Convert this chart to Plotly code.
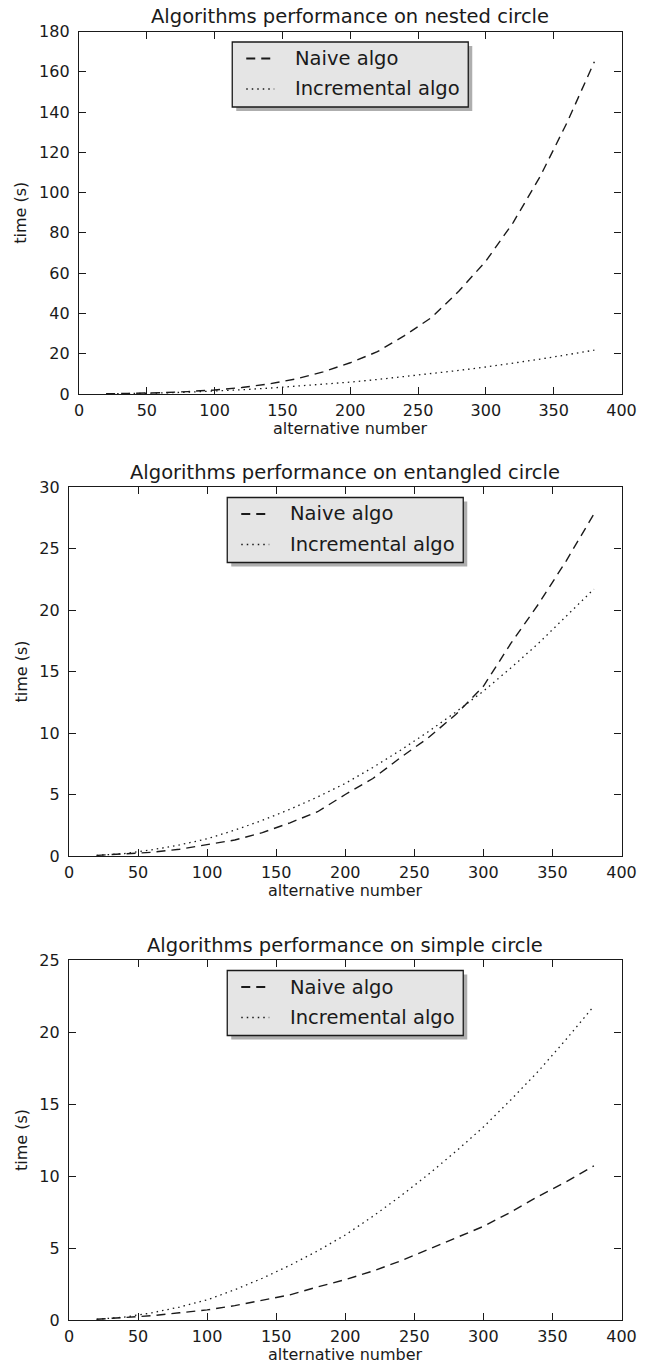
import plotly.graph_objects as go

W, H = 652, 1366

alt_numbers = [20, 40, 60, 80, 100, 120, 140, 160, 180, 200, 220, 240, 260, 280, 300, 320, 340, 360, 380]

nested_naive = [0.1, 0.3, 0.6, 1.2, 2.0, 3.2, 5.0, 7.5, 11.0, 15.5, 21.0, 29.0, 38.0, 51.0, 66.0, 85.0, 108.0, 135.0, 165.0]
nested_incr = [0.05, 0.2, 0.5, 0.9, 1.4, 2.1, 2.9, 3.8, 4.8, 5.9, 7.2, 8.6, 10.1, 11.7, 13.4, 15.3, 17.3, 19.5, 21.8]

entangled_naive = [0.05, 0.15, 0.3, 0.55, 0.9, 1.3, 1.9, 2.7, 3.6, 5.0, 6.3, 8.0, 9.6, 11.5, 13.8, 17.3, 20.5, 24.0, 27.8]
entangled_incr = [0.05, 0.2, 0.5, 0.9, 1.4, 2.1, 2.9, 3.8, 4.8, 5.9, 7.2, 8.6, 10.1, 11.7, 13.4, 15.3, 17.3, 19.5, 21.7]

simple_naive = [0.05, 0.15, 0.3, 0.5, 0.7, 1.0, 1.35, 1.75, 2.3, 2.8, 3.4, 4.1, 4.9, 5.7, 6.5, 7.5, 8.6, 9.6, 10.7]
simple_incr = [0.05, 0.2, 0.5, 0.9, 1.4, 2.1, 2.9, 3.8, 4.8, 5.9, 7.2, 8.6, 10.1, 11.7, 13.4, 15.3, 17.3, 19.5, 21.8]

titles = ["Algorithms performance on nested circle",
          "Algorithms performance on entangled circle",
          "Algorithms performance on simple circle"]
series_names = ["Naive algo", "Incremental algo"]
y_ranges = [(0, 180, 20), (0, 30, 5), (0, 25, 5)]
x_range = (0, 400, 50)
x_title = "alternative number"
y_title = "time (s)"

# plot areas in page pixels
panels = [
    dict(l=79, r=621.5, t=31.5, b=394, naive=nested_naive, incr=nested_incr),
    dict(l=69, r=621.5, t=487, b=856, naive=entangled_naive, incr=entangled_incr),
    dict(l=69, r=621.5, t=960, b=1320, naive=simple_naive, incr=simple_incr),
]

FONT = "DejaVu Sans"
INK = "#1a1a1a"
DASH = "9px,6px"
DOT = "1.5px,4px"

fig = go.Figure()
shapes = []
annotations = []
layout = {}


def px(x):
    return x / W


def py(y):
    return 1 - y / H


for i, p in enumerate(panels):
    k = "" if i == 0 else str(i + 1)
    xa, ya = "x" + k, "y" + k
    fig.add_trace(go.Scatter(x=alt_numbers, y=p["naive"], mode="lines", name=series_names[0],
                             line=dict(color=INK, width=1.4, dash=DASH),
                             xaxis=xa, yaxis=ya, showlegend=False))
    fig.add_trace(go.Scatter(x=alt_numbers, y=p["incr"], mode="lines", name=series_names[1],
                             line=dict(color=INK, width=1.3, dash=DOT),
                             xaxis=xa, yaxis=ya, showlegend=False))
    yr = y_ranges[i]
    common = dict(showline=True, linecolor=INK, linewidth=1.4, mirror="ticks",
                  ticks="inside", ticklen=7, tickwidth=1, tickcolor=INK,
                  showgrid=False, zeroline=False, automargin=False,
                  tickfont=dict(family=FONT, size=16, color=INK))
    layout["xaxis" + k] = dict(domain=[px(p["l"]), px(p["r"])], anchor=ya,
                               range=[x_range[0], x_range[1]], tickmode="linear",
                               tick0=0, dtick=x_range[2], ticklabelstandoff=2, **common)
    layout["yaxis" + k] = dict(domain=[py(p["b"]), py(p["t"])], anchor=xa,
                               range=[yr[0], yr[1]], tickmode="linear", tick0=0, dtick=yr[2],
                               ticklabelstandoff=5, **common)

    cx = (p["l"] + p["r"]) / 2
    cy = (p["t"] + p["b"]) / 2

    # axis titles
    annotations.append(dict(text=x_title, xref="paper", yref="paper",
                            x=px(cx), y=py(p["b"] + 46), xanchor="center", yanchor="bottom",
                            showarrow=False, font=dict(family=FONT, size=16, color=INK)))
    annotations.append(dict(text=y_title, xref="paper", yref="paper", textangle=-90,
                            x=px(21), y=py(cy), xanchor="center", yanchor="middle",
                            showarrow=False, font=dict(family=FONT, size=16, color=INK)))

    # legend ("upper center") drawn in page pixels
    bx0, bx1 = cx - 118, cx + 118
    by0, by1 = p["t"] + 10.5, p["t"] + 75.5

    shapes.append(dict(type="rect", xref="paper", yref="paper",
                       x0=px(bx0 + 4), x1=px(bx1 + 4), y0=py(by1 + 4), y1=py(by0 + 4),
                       fillcolor="#8c8c8c", line=dict(width=0), opacity=0.7, layer="above"))
    shapes.append(dict(type="rect", xref="paper", yref="paper",
                       x0=px(bx0), x1=px(bx1), y0=py(by1), y1=py(by0),
                       fillcolor="#e5e5e5", line=dict(color=INK, width=1.3), layer="above"))
    rows = [(series_names[0], DASH, 2.0, by0 + 16.5), (series_names[1], DOT, 1.4, by0 + 47)]
    for name, dash, lw, yy in rows:
        shapes.append(dict(type="line", xref="paper", yref="paper",
                           x0=px(bx0 + 14), x1=px(bx0 + 42), y0=py(yy), y1=py(yy),
                           line=dict(color=INK, width=lw, dash=dash), layer="above"))
        annotations.append(dict(text=name, xref="paper", yref="paper",
                                x=px(bx0 + 61), y=py(yy), xanchor="left", yanchor="middle",
                                showarrow=False, font=dict(family=FONT, size=19.5, color=INK)))

    annotations.append(dict(text=titles[i], xref="paper", yref="paper",
                            x=px(cx), y=py(p["t"] - 15), xanchor="center", yanchor="middle",
                            showarrow=False, font=dict(family=FONT, size=19.5, color=INK)))

fig.update_layout(width=W, height=H, margin=dict(l=0, r=0, t=0, b=0, autoexpand=False),
                  paper_bgcolor="white", plot_bgcolor="white",
                  shapes=shapes, annotations=annotations, **layout)

fig.write_html("out.html", config={"displayModeBar": False},
               post_script="document.body.style.margin='0';document.body.style.overflow='hidden';")
